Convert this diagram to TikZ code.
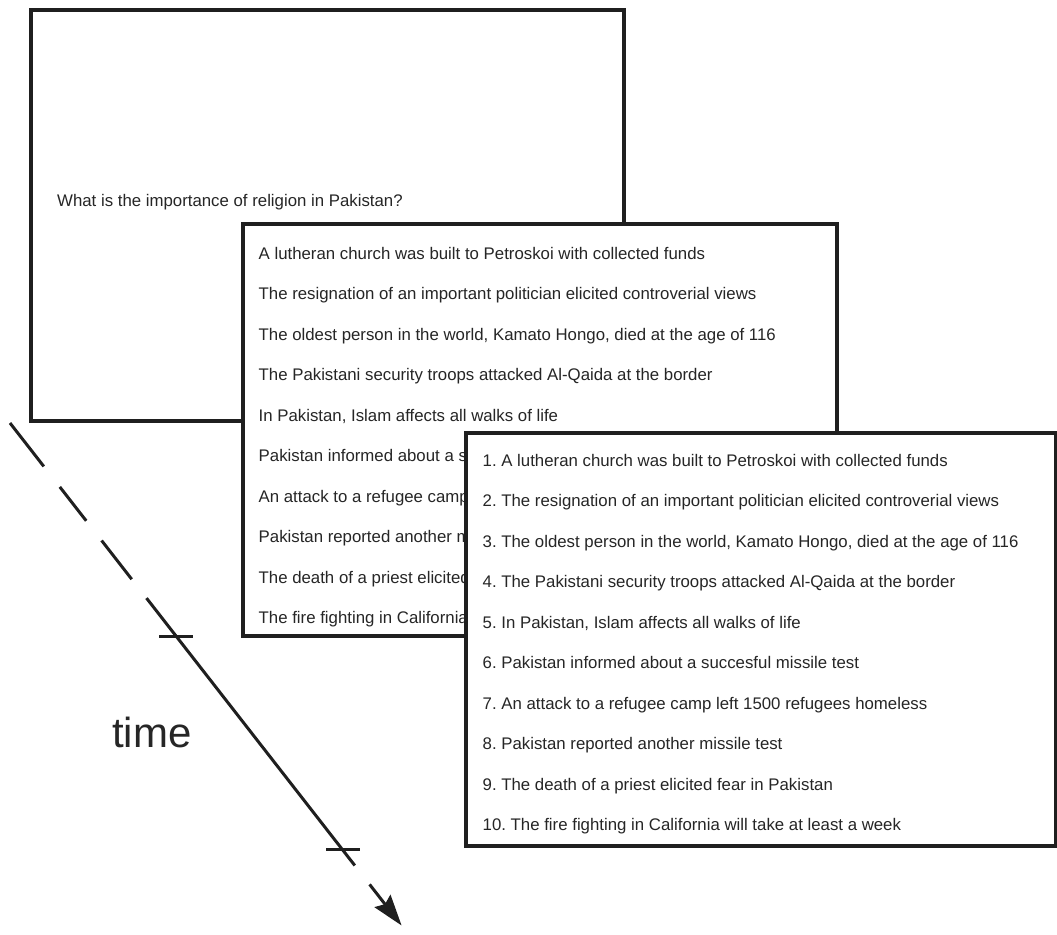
\documentclass[tikz,border=0pt]{standalone}
\usepackage{fontspec}
\setmainfont{Liberation Sans}
\usetikzlibrary{arrows.meta}
\frenchspacing
\begin{document}
\begin{tikzpicture}[x=1pt,y=-1pt,
  panel/.style={draw=black!88, line width=3.2pt, fill=white, inner sep=0pt, outer sep=0pt, anchor=north west},
  item/.style={anchor=base west, inner sep=0pt, font=\fontsize{16.8}{20}\selectfont, text=black!85},
  axis/.style={line width=3pt, draw=black!88},
  tickmark/.style={line width=3pt, draw=black!88}]
\useasboundingbox (0,0) rectangle (1057,934);
% box 1 : query
\node[panel, minimum width=593pt, minimum height=411pt] (q) at (31,10) {};
\node[item] (qt) at (57,206) {What is the importance of religion in Pakistan?};
% box 2 : unordered list
\node[panel, minimum width=594pt, minimum height=412pt] (u) at (243,224) {};
\foreach \s [count=\i] in {
  {A lutheran church was built to Petroskoi with collected funds},
  {The resignation of an important politician elicited controverial views},
  {The oldest person in the world, Kamato Hongo, died at the age of 116},
  {The Pakistani security troops attacked Al-Qaida at the border},
  {In Pakistan, Islam affects all walks of life},
  {Pakistan informed about a succesful missile test},
  {An attack to a refugee camp left 1500 refugees homeless},
  {Pakistan reported another missile test},
  {The death of a priest elicited fear in Pakistan},
  {The fire fighting in California will take at least a week}}
  \node[item] (u\i) at (258.5,{259+40.5*(\i-1)}) {\s};
% box 3 : ordered list
\node[panel, minimum width=590pt, minimum height=413pt] (o) at (466,433) {};
\foreach \s [count=\i] in {
  {A lutheran church was built to Petroskoi with collected funds},
  {The resignation of an important politician elicited controverial views},
  {The oldest person in the world, Kamato Hongo, died at the age of 116},
  {The Pakistani security troops attacked Al-Qaida at the border},
  {In Pakistan, Islam affects all walks of life},
  {Pakistan informed about a succesful missile test},
  {An attack to a refugee camp left 1500 refugees homeless},
  {Pakistan reported another missile test},
  {The death of a priest elicited fear in Pakistan},
  {The fire fighting in California will take at least a week}}
  \node[item] (o\i) at (482.5,{466+40.5*(\i-1)}) {\i.\ \s};
% time axis
\coordinate (a0) at (10,423);
\coordinate (a1) at (43.8,466.4);
\coordinate (a2) at (59.8,486.9);
\coordinate (a3) at (86.2,520.8);
\coordinate (a4) at (101.6,540.5);
\coordinate (a5) at (131.7,579.2);
\coordinate (a6) at (146.5,598.1);
\coordinate (a7) at (354.8,865.5);
\coordinate (a8) at (369.6,884.4);
\coordinate (a9) at (401.6,925.5);
\draw[axis] (a0) -- (a1);
\draw[axis] (a2) -- (a3);
\draw[axis] (a4) -- (a5);
\draw[axis] (a6) -- (a7);
\draw[axis, -{Stealth[length=31pt,width=20pt,inset=4pt]}] (a8) -- (a9);
\coordinate (k1l) at (159,636);
\coordinate (k1r) at (193,636);
\coordinate (k2l) at (326,849);
\coordinate (k2r) at (360,849);
\draw[tickmark] (k1l) -- (k1r);
\draw[tickmark] (k2l) -- (k2r);
\node[anchor=base west, inner sep=0pt, font=\fontsize{42}{48}\selectfont, text=black!85] (tl) at (112,747) {time};
\end{tikzpicture}
\end{document}
